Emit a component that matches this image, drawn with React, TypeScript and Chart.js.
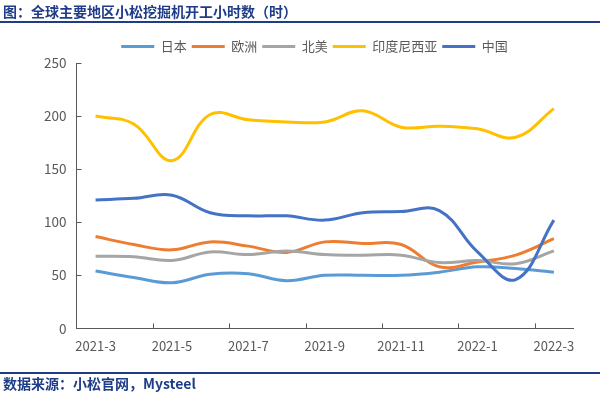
import React, { useEffect, useRef } from "react";
import { Chart, registerables } from "chart.js";

Chart.register(...registerables);

const months = [
  "2021-3", "2021-4", "2021-5", "2021-6", "2021-7", "2021-8", "2021-9",
  "2021-10", "2021-11", "2021-12", "2022-1", "2022-2", "2022-3",
];
const japan = [54, 48, 43, 51, 51.5, 45, 50, 50, 50, 53, 58, 56.5, 53];
const europe = [86.5, 79, 74, 81.5, 77.5, 71.5, 81.5, 80, 79, 58, 62.5, 69, 84.5];
const northAmerica = [68, 67.5, 64, 72, 69.5, 73, 69.5, 69, 69, 62, 64, 61, 73];
const indonesia = [200, 192.5, 158, 201.5, 196.5, 194.5, 194.5, 205, 189.5, 190.5, 188, 180, 207];
const china = [121, 122.5, 125.5, 109, 106, 106, 102, 109, 110, 111, 72, 46, 102];
const yTicks = [0, 50, 100, 150, 200, 250];

const seriesNames = ["日本", "欧洲", "北美", "印度尼西亚", "中国"];
const seriesColors = ["#5B9BD5", "#ED7D31", "#A5A5A5", "#FFC000", "#4472C4"];

const FONT = '"Noto Sans CJK SC", "Noto Sans", sans-serif';
const AXIS = "#595959";

const tickMarks = {
  id: "tickMarks",
  afterLayout(chart: any) {
    const lg = chart.legend;
    if (lg) {
      lg.left += 11;
      lg.right += 11;
    }
  },
  afterDraw(chart: any) {
    const { ctx, chartArea } = chart;
    const x = chart.scales.x;
    const y = chart.scales.y;
    ctx.save();
    ctx.strokeStyle = AXIS;
    ctx.lineWidth = 1;
    ctx.beginPath();
    for (const v of yTicks) {
      const py = Math.round(y.getPixelForValue(v)) + 0.5;
      ctx.moveTo(chartArea.left, py);
      ctx.lineTo(chartArea.left + 5, py);
    }
    for (let i = 2; i < months.length; i += 2) {
      const px = Math.round((x.getPixelForValue(i - 1) + x.getPixelForValue(i)) / 2) + 0.5;
      ctx.moveTo(px, chartArea.bottom);
      ctx.lineTo(px, chartArea.bottom - 5);
    }
    ctx.stroke();
    ctx.restore();
  },
};

export default function App() {
  const canvasRef = useRef<HTMLCanvasElement | null>(null);

  useEffect(() => {
    const canvas = canvasRef.current;
    if (!canvas) return;
    const values = [japan, europe, northAmerica, indonesia, china];
    const chart = new Chart(canvas, {
      type: "line",
      data: {
        labels: months,
        datasets: values.map((d, i) => ({
          label: seriesNames[i],
          data: d,
          borderColor: seriesColors[i],
          backgroundColor: seriesColors[i],
          borderWidth: 3,
          pointRadius: 0,
          pointHoverRadius: 0,
          tension: 0.4,
          fill: false,
          order: values.length - i,
        })),
      },
      options: {
        responsive: false,
        animation: false,
        layout: { padding: { left: 34, right: 27, top: 35, bottom: 32 } },
        plugins: {
          tooltip: { enabled: false },
          legend: {
            position: "top",
            align: "center",
            labels: {
              boxWidth: 33,
              boxHeight: 3,
              padding: 5,
              color: AXIS,
              font: { family: FONT, size: 13 },
              sort: (a: any, b: any) => a.datasetIndex - b.datasetIndex,
              generateLabels: (c: any) =>
                Chart.defaults.plugins.legend.labels
                  .generateLabels(c)
                  .map((l: any) => ({ ...l, lineWidth: 0, fillStyle: l.strokeStyle })),
            },
          },
        },
        scales: {
          x: {
            offset: true,
            grid: { display: true, drawOnChartArea: false, drawTicks: false, offset: true },
            border: { display: true, color: AXIS, width: 1 },
            ticks: {
              autoSkip: false,
              maxRotation: 0,
              padding: 10,
              color: AXIS,
              font: { family: FONT, size: 13 },
              callback: (_v: any, idx: number) => (idx % 2 === 0 ? months[idx] : ""),
            },
          },
          y: {
            min: 0,
            max: 250,
            grid: { display: true, drawOnChartArea: false, drawTicks: false },
            border: { display: true, color: AXIS, width: 1 },
            ticks: {
              stepSize: 50,
              padding: 10,
              color: AXIS,
              font: { family: FONT, size: 13.5 },
            },
          },
        },
      },
      plugins: [tickMarks],
    });
    return () => chart.destroy();
  }, []);

  const titleColor = "#1F3C88";
  return (
    <div
      style={{
        position: "fixed",
        left: 0,
        top: 0,
        width: 600,
        height: 396,
        background: "#fff",
        overflow: "hidden",
      }}
    >
      <canvas
        ref={canvasRef}
        width={600}
        height={396}
        style={{ position: "absolute", left: 0, top: 0, width: 600, height: 396 }}
      />
      <div
        style={{
          position: "absolute",
          left: 3,
          top: 1,
          fontFamily: FONT,
          fontWeight: 700,
          fontSize: 14,
          lineHeight: "20px",
          color: titleColor,
          whiteSpace: "nowrap",
        }}
      >
        图：全球主要地区小松挖掘机开工小时数（时）
      </div>
      <div
        style={{
          position: "absolute",
          left: 0,
          top: 21,
          width: 600,
          height: 2,
          background: titleColor,
        }}
      />
      <div
        style={{
          position: "absolute",
          left: 0,
          top: 372,
          width: 600,
          height: 2,
          background: titleColor,
        }}
      />
      <div
        style={{
          position: "absolute",
          left: 3,
          top: 373,
          fontFamily: FONT,
          fontWeight: 700,
          fontSize: 14,
          lineHeight: "20px",
          color: titleColor,
          whiteSpace: "nowrap",
        }}
      >
        数据来源：小松官网，Mysteel
      </div>
    </div>
  );
}
